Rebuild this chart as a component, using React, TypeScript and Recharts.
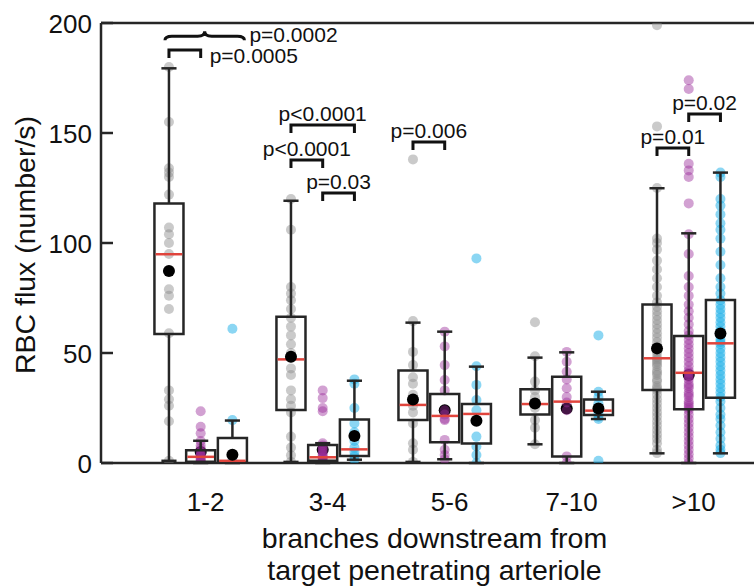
import React from "react";
import { ScatterChart, Scatter, XAxis, YAxis, ReferenceLine, ReferenceArea } from "recharts";

// ---------- data ----------
const categories = ["1-2", "3-4", "5-6", "7-10", ">10"];
const categoryTicks = [0, 1, 2, 3, 4];
const yTicks = [0, 50, 100, 150, 200];
const groupNames = ["gray", "purple", "cyan"];

// per category: [low whisker, q1, median, q3, high whisker, mean]
const grayStats = [
  [1, 58.6, 94.9, 118, 179.4, 87.3],
  [0.5, 24.1, 47.1, 66.5, 119.2, 48.3],
  [0.5, 19.5, 26.4, 42, 63.8, 28.9],
  [8.5, 22.1, 26.8, 33.5, 47.9, 27],
  [4.4, 33.2, 47.6, 72.1, 124.9, 52.1],
];
const purpleStats = [
  [0, 0.6, 2.8, 5.8, 10.1, 5],
  [0, 1.0, 2.6, 8.2, 9, 6],
  [1.7, 9.4, 21.4, 31.4, 59.7, 24],
  [0, 2.9, 27.9, 39.2, 50.3, 24.8],
  [0, 24.4, 41, 57.7, 104.4, 40],
];
const cyanStats = [
  [0, 0.3, 1.0, 11.4, 19.3, 3.8],
  [1.5, 3.2, 6.2, 19.8, 37.4, 12.3],
  [0, 8.9, 22.3, 26.8, 43.8, 19.2],
  [20, 21.8, 23.8, 28.9, 32.4, 24.8],
  [4.4, 29.7, 54.4, 74.1, 132, 58.9],
];

const grayPoints = [
  [180, 155, 134, 132, 130, 122, 107, 104, 100, 95, 79, 76, 70, 59, 33, 29, 26, 19, 1],
  [120, 106, 80, 77, 74, 70, 66, 62, 58, 54, 50, 48, 43, 40, 33, 29, 26, 23, 12, 7, 3.5, 0.5],
  [138, 64.5, 50.5, 44.5, 39, 36, 31, 28, 26, 23, 18, 9, 6, 0.5],
  [64, 48.5, 37, 33, 30, 27, 25, 19.5, 16, 8.5],
  [199, 153, 125, 102, 100, 97, 92, 88, 84, 80, 76, 73, 71, 69, 67, 65, 63, 61, 59, 57, 55, 53, 51, 50, 48, 47, 46, 45, 44, 42, 41, 40, 38, 37, 35, 34, 33, 31, 29, 27, 25, 23, 21, 19, 17, 15, 13, 11, 9, 6, 4.5],
];
const purplePoints = [
  [23.5, 16.5, 13.5, 10, 8, 6.5, 5, 4, 3.5, 3, 2, 1.5, 1, 0.5, 0],
  [33, 29.5, 25, 23.5, 9, 8, 7, 6, 5, 4, 3, 2.5, 2, 1, 0.5, 0],
  [59.7, 53, 44.5, 37.7, 33, 24, 22, 20, 19.5, 10.5, 6, 3.6, 1.7],
  [50.5, 46, 41.5, 38, 34, 30, 27.5, 24, 3, 0],
  [174, 170, 136, 133, 130, 118, 104, 95, 85, 80, 76, 72, 69, 66, 63, 60, 58, 56, 54, 52, 50, 48, 46, 44, 42, 41, 40, 39, 38, 36, 35, 34, 32, 31, 30, 28, 27, 26, 25, 24, 22, 20, 18, 16, 14, 12, 10, 8, 6, 4, 2, 0],
];
const cyanPoints = [
  [61, 19.5, 1, 0],
  [38, 36, 25, 18, 14, 10, 7, 5, 3, 1.5],
  [93, 44, 35.5, 28.6, 24, 12, 7.5, 3.6, 0],
  [58, 32.4, 30, 27, 25, 23, 21, 20, 1],
  [132, 130, 120, 117, 113, 109, 106, 102, 96, 90, 84, 80, 77, 74, 72, 70, 68, 66, 64, 62, 60, 58, 56, 55, 54, 52, 50, 48, 46, 44, 42, 40, 38, 36, 34, 32, 30, 28, 25, 22, 20, 17, 14, 11, 8, 6, 4.5],
];

// significance comparisons: category index, group from/to, bracket level, label, kind
const comparisons = [
  { cat: 0, from: 0, to: 1, level: 187.7, label: "p=0.0005", kind: "side" },
  { cat: 0, from: 0, to: 2, level: 194, label: "p=0.0002", kind: "brace" },
  { cat: 1, from: 0, to: 2, level: 153.6, label: "p<0.0001", kind: "top" },
  { cat: 1, from: 0, to: 1, level: 137.7, label: "p<0.0001", kind: "top" },
  { cat: 1, from: 1, to: 2, level: 122.7, label: "p=0.03", kind: "top" },
  { cat: 2, from: 0, to: 1, level: 145.9, label: "p=0.006", kind: "top" },
  { cat: 4, from: 0, to: 1, level: 143.2, label: "p=0.01", kind: "top" },
  { cat: 4, from: 1, to: 2, level: 158.6, label: "p=0.02", kind: "top" },
];

// ---------- style / layout ----------
const GROUP_OFFSET = [-0.3, -0.04, 0.22];
const BOX_HALF = 0.119;
const CAP_HALF = 0.062;
const LEG = 3.6;
const AXIS = "#262626";
const MEDIAN = "#e0443c";
const FONT = "'Liberation Sans', Arial, Helvetica, sans-serif";
const groupFill = ["#8a8a8a", "#9c2f9c", "#17aee8"];
const groupOpacity = [0.45, 0.45, 0.5];

const stats = [grayStats, purpleStats, cyanStats];
const points = [grayPoints, purplePoints, cyanPoints];

const pointData = points.map((g, gi) =>
  g.flatMap((vals, ci) => vals.map((v) => ({ x: ci + GROUP_OFFSET[gi], y: v })))
);
const meanData = stats.map((g, gi) => g.map((s, ci) => ({ x: ci + GROUP_OFFSET[gi], y: s[5] })));

const dot = (fill: string, opacity: number, r: number) => (p: any) =>
  p.cx == null ? <g /> : <circle cx={p.cx} cy={p.cy} r={r} fill={fill} fillOpacity={opacity} />;

const YTick = (p: any) => (
  <g>
    <line x1={p.x + 9} x2={p.x + 21} y1={p.y} y2={p.y} stroke={AXIS} strokeWidth={2.5} />
    <text x={p.x} y={p.y + 9.5} textAnchor="end" fontSize={26} fontFamily={FONT} fill="#111">
      {p.payload.value}
    </text>
  </g>
);

const XTick = (p: any) => (
  <text x={p.x} y={p.y + 48} textAnchor="middle" fontSize={26} fontFamily={FONT} fill="#111">
    {categories[p.payload.value]}
  </text>
);

const XTitle = (p: any) => {
  const vb = p.viewBox || {};
  const cx = vb.x + vb.width / 2 + 7;
  return (
    <g fontFamily={FONT} fontSize={28.5} fill="#111" textAnchor="middle">
      <text x={cx} y={548}>branches downstream from</text>
      <text x={cx} y={580}>target penetrating arteriole</text>
    </g>
  );
};

const YTitle = (p: any) => {
  const vb = p.viewBox || {};
  const cx = 25;
  const cy = vb.y + vb.height / 2 + 2;
  return (
    <text
      x={cx}
      y={cy + 10}
      transform={`rotate(-90, ${cx}, ${cy})`}
      textAnchor="middle"
      fontFamily={FONT}
      fontSize={28.5}
      fill="#111"
    >
      RBC flux (number/s)
    </text>
  );
};

const bracketShape = (c: any) => (p: any) => {
  const { x, y, width, height } = p;
  if (c.kind === "brace") {
    const x0 = x - 4;
    const x1 = x + width + 12;
    const xm = (x0 + x1) / 2;
    const yc = y;
    const r = 7;
    const d = `M${x0},${yc + 4} Q${x0},${yc} ${x0 + r},${yc} L${xm - r},${yc} Q${xm},${yc} ${xm},${yc - 5} Q${xm},${yc} ${xm + r},${yc} L${x1 - r},${yc} Q${x1},${yc} ${x1},${yc + 4}`;
    return (
      <g>
        <path d={d} fill="none" stroke="#111" strokeWidth={3} />
        <text x={x1 + 5} y={yc + 6} fontSize={21} fontFamily={FONT} fill="#111">
          {c.label}
        </text>
      </g>
    );
  }
  const d = `M${x},${y + height} L${x},${y} L${x + width},${y} L${x + width},${y + height}`;
  return (
    <g>
      <path d={d} fill="none" stroke="#111" strokeWidth={3} />
      {c.kind === "side" ? (
        <text x={x + width + 9} y={y + 13} fontSize={21} fontFamily={FONT} fill="#111">
          {c.label}
        </text>
      ) : (
        <text x={x + width / 2} y={y - 4} textAnchor="middle" fontSize={21} fontFamily={FONT} fill="#111">
          {c.label}
        </text>
      )}
    </g>
  );
};

export default function App() {
  const boxEls: any[] = [];
  stats.forEach((g, gi) =>
    g.forEach((s, ci) => {
      const cx = ci + GROUP_OFFSET[gi];
      const [lo, q1, med, q3, hi] = s;
      const k = `${groupNames[gi]}-${ci}`;
      const lineProps = { stroke: AXIS, strokeWidth: 2.5, ifOverflow: "visible" as const, zIndex: 650 };
      boxEls.push(
        <ReferenceLine key={`wl-${k}`} segment={[{ x: cx, y: lo }, { x: cx, y: q1 }]} {...lineProps} />,
        <ReferenceLine key={`wh-${k}`} segment={[{ x: cx, y: q3 }, { x: cx, y: hi }]} {...lineProps} />,
        <ReferenceLine key={`cl-${k}`} segment={[{ x: cx - CAP_HALF, y: lo }, { x: cx + CAP_HALF, y: lo }]} {...lineProps} />,
        <ReferenceLine key={`ch-${k}`} segment={[{ x: cx - CAP_HALF, y: hi }, { x: cx + CAP_HALF, y: hi }]} {...lineProps} />,
        <ReferenceArea
          key={`bx-${k}`}
          x1={cx - BOX_HALF}
          x2={cx + BOX_HALF}
          y1={q1}
          y2={q3}
          fill="none"
          fillOpacity={0}
          stroke={AXIS}
          strokeWidth={2.5}
          ifOverflow="visible"
          zIndex={650}
        />,
        <ReferenceLine
          key={`md-${k}`}
          segment={[{ x: cx - BOX_HALF + 0.01, y: med }, { x: cx + BOX_HALF - 0.01, y: med }]}
          stroke={MEDIAN}
          strokeWidth={2.5}
          ifOverflow="visible"
          zIndex={660}
        />
      );
    })
  );

  const bracketEls = comparisons.map((c, i) => (
    <ReferenceArea
      key={`br-${i}`}
      x1={c.cat + GROUP_OFFSET[c.from]}
      x2={c.cat + GROUP_OFFSET[c.to]}
      y1={c.level - LEG}
      y2={c.level}
      ifOverflow="visible"
      shape={bracketShape(c)}
      zIndex={700}
    />
  ));

  return (
    <div style={{ position: "absolute", left: 0, top: 0, background: "#fff" }}>
      <ScatterChart width={754} height={587} margin={{ top: 23, right: 0, bottom: 0, left: 0 }}>
        <XAxis
          type="number"
          dataKey="x"
          domain={[-0.857, 4.495]}
          ticks={categoryTicks}
          allowDataOverflow
          height={124}
          tickSize={0}
          tickMargin={0}
          tickLine={false}
          tick={<XTick />}
          interval={0}
          axisLine={{ stroke: AXIS, strokeWidth: 2.5 }}
          label={{ content: <XTitle /> }}
        />
        <YAxis
          type="number"
          dataKey="y"
          domain={[0, 200]}
          ticks={yTicks}
          allowDataOverflow
          width={101}
          tickSize={0}
          tickMargin={9}
          tickLine={false}
          tick={<YTick />}
          interval={0}
          axisLine={{ stroke: AXIS, strokeWidth: 2.5 }}
          label={{ content: <YTitle /> }}
        />
        <ReferenceLine y={200} stroke={AXIS} strokeWidth={2.5} ifOverflow="visible" />
        <Scatter
          data={meanData[1]}
          isAnimationActive={false}
          shape={dot("#000", 1, 6)}
          zIndex={590}
        />
        {pointData.map((d, gi) => (
          <Scatter
            key={`pts-${gi}`}
            data={d}
            isAnimationActive={false}
            shape={dot(groupFill[gi], groupOpacity[gi], 5)}
            zIndex={600}
          />
        ))}
        {boxEls}
        <Scatter data={meanData[0]} isAnimationActive={false} shape={dot("#000", 1, 6)} zIndex={680} />
        <Scatter data={meanData[2]} isAnimationActive={false} shape={dot("#000", 1, 6)} zIndex={680} />
        {bracketEls}
      </ScatterChart>
    </div>
  );
}
